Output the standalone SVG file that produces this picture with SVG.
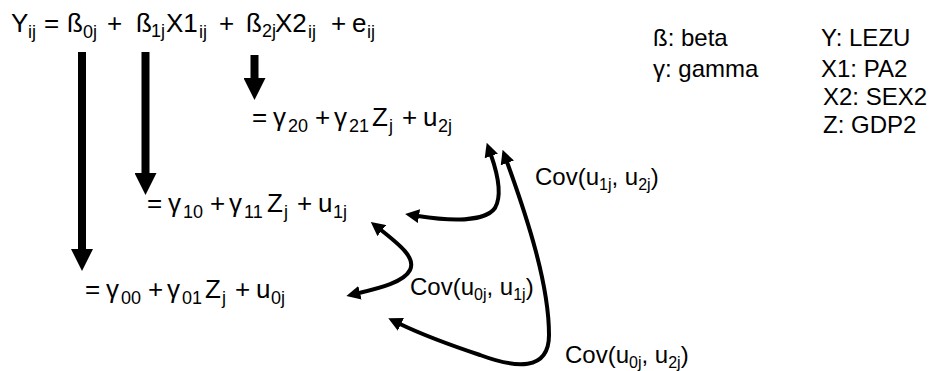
<svg xmlns="http://www.w3.org/2000/svg" width="937" height="371" viewBox="0 0 937 371">
<style>
text{font-family:"Liberation Sans",Arial,sans-serif;fill:#000}
.eq{font-size:26px}
.sb{font-size:18px}
.lg{font-size:24px}
.cv{font-size:24px}
.cs{font-size:16px}
.thick{stroke:#000;stroke-width:8;fill:none}
.thin{stroke:#000;stroke-width:4;fill:none;stroke-linecap:round}
</style>
<defs>
<marker id="bigHead" markerUnits="userSpaceOnUse" viewBox="0 0 22 22" markerWidth="22" markerHeight="22" refX="0" refY="11" orient="auto">
<path d="M0,0 L22,11 L0,22 z" fill="#000"/>
</marker>
<marker id="smallHead" markerUnits="userSpaceOnUse" viewBox="0 0 14 14" markerWidth="14" markerHeight="14" refX="1" refY="7" orient="auto-start-reverse">
<path d="M0,0 L14,7 L0,14 z" fill="#000"/>
</marker>
</defs>
<rect width="937" height="371" fill="#fff"/>

<g id="main-equation" class="eq">
<text x="11" y="32">Y</text><text class="sb" x="28" y="38">ij</text>
<text x="44" y="32">=</text>
<text x="67" y="32">ß</text><text class="sb" x="83" y="38">0j</text>
<text x="107" y="32">+</text>
<text x="136" y="32">ß</text><text class="sb" x="151" y="37">1j</text><text x="166" y="32">X1</text><text class="sb" x="199" y="38">ij</text>
<text x="219" y="32">+</text>
<text x="246" y="32">ß</text><text class="sb" x="262" y="37">2j</text><text x="275" y="32">X2</text><text class="sb" x="308" y="38">ij</text>
<text x="331" y="32">+</text>
<text x="352" y="32">e</text><text class="sb" x="367" y="38">ij</text>
</g>

<g id="legend" class="lg">
<text x="653" y="46">ß: beta</text>
<text x="653" y="77">γ: gamma</text>
<text x="821" y="46">Y: LEZU</text>
<text x="821" y="77">X1: PA2</text>
<text x="823" y="105">X2: SEX2</text>
<text x="823" y="133">Z: GDP2</text>
</g>

<g id="beta2-equation" class="eq" transform="translate(167,-172)">
<text x="85" y="298">=</text>
<text x="106" y="298">γ</text><text class="sb" x="121" y="304">20</text>
<text x="148" y="298">+</text>
<text x="167" y="298">γ</text><text class="sb" x="182" y="304">21</text>
<text x="205" y="298">Z</text><text class="sb" x="222" y="304">j</text>
<text x="235" y="298">+</text>
<text x="256" y="298">u</text><text class="sb" x="271" y="304">2j</text>
</g>

<g id="beta1-equation" class="eq" transform="translate(62,-86)">
<text x="85" y="298">=</text>
<text x="106" y="298">γ</text><text class="sb" x="121" y="304">10</text>
<text x="148" y="298">+</text>
<text x="167" y="298">γ</text><text class="sb" x="182" y="304">11</text>
<text x="205" y="298">Z</text><text class="sb" x="222" y="304">j</text>
<text x="235" y="298">+</text>
<text x="256" y="298">u</text><text class="sb" x="271" y="304">1j</text>
</g>

<g id="beta0-equation" class="eq">
<text x="85" y="298">=</text>
<text x="106" y="298">γ</text><text class="sb" x="121" y="304">00</text>
<text x="148" y="298">+</text>
<text x="167" y="298">γ</text><text class="sb" x="182" y="304">01</text>
<text x="205" y="298">Z</text><text class="sb" x="222" y="304">j</text>
<text x="235" y="298">+</text>
<text x="256" y="298">u</text><text class="sb" x="271" y="304">0j</text>
</g>

<g id="labels" class="cv">
<text x="535" y="185">Cov(u<tspan class="cs" dy="5">1j</tspan><tspan dy="-5">, u</tspan><tspan class="cs" dy="5">2j</tspan><tspan dy="-5">)</tspan></text>
<text x="410" y="295">Cov(u<tspan class="cs" dy="5">0j</tspan><tspan dy="-5">, u</tspan><tspan class="cs" dy="5">1j</tspan><tspan dy="-5">)</tspan></text>
<text x="565" y="363">Cov(u<tspan class="cs" dy="5">0j</tspan><tspan dy="-5">, u</tspan><tspan class="cs" dy="5">2j</tspan><tspan dy="-5">)</tspan></text>
</g>

<g id="connectors">
<line class="thick" x1="82" y1="52" x2="82" y2="249" marker-end="url(#bigHead)"/>
<line class="thick" x1="145.5" y1="52" x2="145.5" y2="173" marker-end="url(#bigHead)"/>
<line class="thick" x1="254.5" y1="55" x2="254.5" y2="78" marker-end="url(#bigHead)"/>
<path class="thin" d="M418,216 C450,221 485,222 495,208 C502,196 498,175 491,155" marker-start="url(#smallHead)" marker-end="url(#smallHead)"/>
<path class="thin" d="M381,230 C400,245 416,258 410,270 C404,282 380,288 359,293" marker-start="url(#smallHead)" marker-end="url(#smallHead)"/>
<path class="thin" d="M507,162 C528,220 549,285 549,335 C549,372 515,368 480,355 C450,345 425,336 400,324" marker-start="url(#smallHead)" marker-end="url(#smallHead)"/>
</g>
</svg>
